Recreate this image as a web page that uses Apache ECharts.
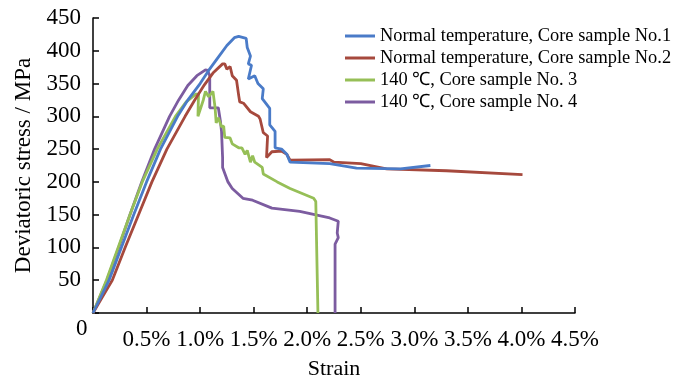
<!DOCTYPE html>
<html>
<head>
<meta charset="utf-8">
<script src="https://cdn.jsdelivr.net/npm/echarts@6/dist/echarts.min.js"></script>
<style>html,body{margin:0;padding:0;background:#fff}#c{width:686px;height:385px}</style>
</head>
<body>
<div id="c"></div>
<script>
const seriesNames = [
  'Normal temperature, Core sample No.1',
  'Normal temperature, Core sample No.2',
  '140 \u2103, Core sample No. 3',
  '140 \u2103, Core sample No. 4'
];
const xTicks = [0, 0.5, 1.0, 1.5, 2.0, 2.5, 3.0, 3.5, 4.0, 4.5];
const yTicks = [0, 50, 100, 150, 200, 250, 300, 350, 400, 450];
// [strain %, deviatoric stress MPa]
const sample1 = [[0,0],[0.15,50],[0.265,100],[0.38,150],[0.50,200],[0.63,250],[0.79,300],[0.89,326],[1.0,350],[1.08,370],[1.16,388],[1.25,408],[1.32,420],[1.36,422],[1.43,419],[1.44,405],[1.47,392],[1.45,380],[1.48,378],[1.45,357],[1.51,362],[1.54,350],[1.59,342],[1.58,327],[1.65,312],[1.65,287],[1.70,277],[1.70,252],[1.76,250],[1.81,242],[1.84,230],[2.21,228],[2.46,221],[2.87,220],[3.15,225]];
const sample2 = [[0,0],[0.09,25],[0.18,50],[0.30,100],[0.425,150],[0.55,200],[0.69,250],[0.86,300],[0.95,325],[1.04,348],[1.12,366],[1.21,380],[1.23,380],[1.25,372],[1.28,376],[1.30,362],[1.34,355],[1.36,332],[1.37,322],[1.405,320],[1.47,307],[1.545,300],[1.56,296],[1.59,275],[1.63,270],[1.62,237],[1.67,246],[1.76,247],[1.81,242],[1.84,233],[2.21,234],[2.25,230],[2.50,228],[2.74,220],[3.30,217],[4.01,211]];
const sample3 = [[0,0],[0.125,50],[0.235,100],[0.345,150],[0.46,200],[0.60,250],[0.77,300],[0.87,322],[0.96,334],[0.985,334],[0.98,300],[1.03,325],[1.05,338],[1.08,330],[1.12,338],[1.14,313],[1.15,290],[1.17,298],[1.20,284],[1.22,285],[1.23,268],[1.28,267],[1.30,258],[1.36,252],[1.39,252],[1.42,242],[1.44,248],[1.47,230],[1.49,240],[1.51,230],[1.58,222],[1.59,212],[1.72,200],[1.84,190],[2.06,175],[2.08,170],[2.10,0]];
const sample4 = [[0,0],[0.13,50],[0.24,100],[0.345,150],[0.455,200],[0.575,250],[0.715,300],[0.80,325],[0.885,347],[0.97,362],[1.05,371],[1.07,370],[1.09,362],[1.09,313],[1.17,313],[1.19,292],[1.20,277],[1.21,237],[1.21,222],[1.26,200],[1.30,190],[1.40,175],[1.49,172],[1.67,160],[1.93,155],[2.21,145],[2.29,140],[2.28,122],[2.29,115],[2.26,105],[2.26,0]];
const colors = ['#4A7BC8', '#A6493D', '#96BF57', '#7C5CA0'];
const allData = [sample1, sample2, sample3, sample4];

const font = 'Liberation Serif, Times New Roman, serif';
const chart = echarts.init(document.getElementById('c'), null, {renderer: 'canvas'});
chart.setOption({
  animation: false,
  backgroundColor: '#fff',
  color: colors,
  grid: {left: 93, right: 111, top: 18, bottom: 67, containLabel: false},
  legend: {
    orient: 'vertical', left: 340, top: 22, itemWidth: 30, itemHeight: 3, itemGap: 4,
    icon: 'rect',
    textStyle: {fontFamily: font, fontSize: 18.4, color: '#000'},
    data: seriesNames
  },
  xAxis: {
    type: 'value', min: xTicks[0], max: xTicks[xTicks.length - 1], interval: 0.5,
    name: 'Strain', nameLocation: 'middle', nameGap: 45,
    nameTextStyle: {fontFamily: font, fontSize: 22, color: '#000'},
    axisLine: {show: true, lineStyle: {color: '#000', width: 1.5}},
    axisTick: {show: true, inside: true, length: 6, lineStyle: {color: '#000', width: 1.5}},
    splitLine: {show: false},
    axisLabel: {
      fontFamily: font, fontSize: 23, color: '#000', margin: 15,
      formatter: v => v === 0 ? '' : v.toFixed(1) + '%'
    }
  },
  yAxis: {
    type: 'value', min: yTicks[0], max: yTicks[yTicks.length - 1], interval: 50,
    name: 'Deviatoric stress / MPa', nameLocation: 'middle', nameGap: 55,
    nameTextStyle: {fontFamily: font, fontSize: 23, color: '#000'},
    axisLine: {show: true, lineStyle: {color: '#000', width: 1.5}},
    axisTick: {show: true, inside: true, length: 6, lineStyle: {color: '#000', width: 1.5}},
    splitLine: {show: false},
    axisLabel: {
      fontFamily: font, fontSize: 23, color: '#000', margin: 12,
      formatter: v => v === 0 ? '' : String(v)
    }
  },
  graphic: [{
    type: 'text', left: 76, top: 317,
    style: {text: '0', font: '23px ' + font, fill: '#000'}
  }],
  series: allData.map((d, i) => ({
    name: seriesNames[i], type: 'line', data: d, showSymbol: false, symbol: 'none',
    lineStyle: {width: 2.8, color: colors[i]}, z: 10 - i
  }))
});
</script>
</body>
</html>
